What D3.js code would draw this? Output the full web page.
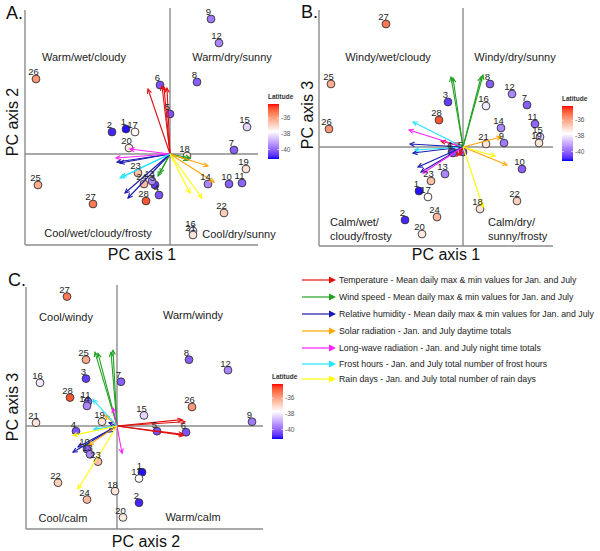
<!DOCTYPE html>
<html><head><meta charset="utf-8">
<script src="https://cdn.jsdelivr.net/npm/d3@7"></script>
<style>body{margin:0;background:#fff}svg{display:block}text{font-family:"Liberation Sans",Arial,sans-serif}</style>
</head><body><svg id="c" width="600" height="551"></svg>
<script>
// ---------- data ----------
const sites    = [1,2,3,4,5,6,7,8,9,10,11,12,13,14,15,16,17,18,19,20,21,22,23,24,25,26,27,28];
const latitude = [-41.1,-40.9,-40.6,-40.3,-40.3,-40.3,-40.1,-40.1,-39.7,-40.1,-40.0,-39.5,-39.5,-39.5,-38.3,-38.0,-37.6,-37.2,-37.2,-37.3,-37.2,-36.8,-36.5,-36.4,-36.2,-35.8,-35.3,-34.8];
const pc1 = [-4.4,-5.8,-1.5,-1.1,0.0,-1.0,6.4,2.7,4.1,5.9,7.2,4.9,-1.8,3.8,7.7,2.3,-3.5,1.7,7.6,-4.1,2.3,5.4,-3.2,-2.6,-13.2,-13.4,-7.7,-2.4];
const pc2 = [2.5,2.2,-3.1,-4.1,4.0,6.9,0.4,7.2,13.5,-3.0,-2.9,11.1,-2.7,-3.0,2.7,-7.7,2.2,-0.2,-1.5,0.6,-8.1,-5.9,-1.9,-3.0,-3.1,7.5,-5.0,-4.7];
const pc3 = [-4.4,-7.3,4.5,-0.5,-0.5,-0.6,4.2,6.3,0.4,-2.2,2.3,5.3,-2.7,1.9,1.0,4.1,-5.0,-6.2,0.4,-8.7,0.3,-5.4,-3.4,-7.0,6.3,1.8,12.3,2.7];

const varGroups   = ["temp","wind","rh","solar","lw","frost","rain"];
const groupColors = ["#e01010","#22a022","#1a1ab0","#ffa500","#ff22ff","#22e5ff","#ffff00"];
const legendLabels = [
  "Temperature - Mean daily max & min values for Jan. and July",
  "Wind speed - Mean daily max & min values for Jan. and July",
  "Relative humidity - Mean daily max & min values for Jan. and July",
  "Solar radiation - Jan. and July daytime totals",
  "Long-wave radiation - Jan. and July night time totals",
  "Frost hours - Jan. and July total number of frost hours",
  "Rain days - Jan. and July total number of rain days"
];
const arrowGroup = ["temp","temp","temp","temp","wind","wind","wind","wind","rh","rh","rh","rh","solar","solar","lw","lw","frost","frost","rain","rain"];
const loadPC1 = [-2.2,-0.8,-0.6,-0.3, -1.2,-1.0,1.8,2.0, -5.3,-5.0,-4.5,-4.2, 3.8,4.4, -5.4,-4.0, -5.0,-4.8, 3.2,2.0];
const loadPC2 = [6.5,6.8,6.7,6.6, -2.2,-1.9,-0.6,-0.4, -0.8,-0.9,-3.9,-4.4, -1.2,-2.8, -0.4,0.5, -2.4,-2.3, -4.4,-3.9];
const loadPC3 = [0.6,0.4,-0.9,-0.8, 7.0,6.9,7.0,7.2, 0.3,-0.6,-2.0,-2.5, 1.0,-1.8, 1.7,-2.6, 2.5,-0.3, -0.9,-6.0];
const latTicks = [-36,-38,-40];

// ---------- drawing ----------
const svg = d3.select("#c");
const color = d3.scaleLinear().domain([-41.2,-37.7,-34.2]).range(["#0000ff","#ffffff","#ff0000"]).interpolate(d3.interpolateLab);
const axisCol = "#8c8c8c";

const panels = [
  {letter:"A.", lx:6, ly:19, xs:pc1, ys:pc2, lx1:loadPC1, ly1:loadPC2,
   xDom:[-14.5,8.8], xRan:[25,258], yDom:[-9.1,14.6], yRan:[245,8],
   xTitle:"PC axis 1", xtx:142, xty:260, yTitle:"PC axis 2", ytx:18, yty:122,
   leg:{x:268,y:104},
   quads:[{t:["Warm/wet/cloudy"],x:84,y:61,a:"middle"},{t:["Warm/dry/sunny"],x:232,y:61,a:"middle"},
          {t:["Cool/wet/cloudy/frosty"],x:98,y:237,a:"middle"},{t:["Cool/dry/sunny"],x:239,y:238,a:"middle"}]},
  {letter:"B.", lx:301, ly:18, xs:pc1, ys:pc3, lx1:loadPC1, ly1:loadPC3,
   xDom:[-14.4,9.0], xRan:[319,553], yDom:[-9.9,13.9], yRan:[246,8],
   xTitle:"PC axis 1", xtx:446, xty:260, yTitle:"PC axis 3", ytx:313, yty:115,
   leg:{x:562,y:106},
   quads:[{t:["Windy/wet/cloudy"],x:388,y:61,a:"middle"},{t:["Windy/dry/sunny"],x:515,y:61,a:"middle"},
          {t:["Calm/wet/","cloudy/frosty"],x:330,y:226,a:"start"},{t:["Calm/dry/","sunny/frosty"],x:488,y:226,a:"start"}]},
  {letter:"C.", lx:8, ly:286, xs:pc2, ys:pc3, lx1:loadPC2, ly1:loadPC3,
   xDom:[-9.1,14.6], xRan:[26,263], yDom:[-9.8,13.4], yRan:[529,285],
   xTitle:"PC axis 2", xtx:146, xty:547, yTitle:"PC axis 3", ytx:18, yty:407,
   leg:{x:272,y:384},
   quads:[{t:["Cool/windy"],x:66,y:321,a:"middle"},{t:["Warm/windy"],x:193,y:319,a:"middle"},
          {t:["Cool/calm"],x:63,y:522,a:"middle"},{t:["Warm/calm"],x:193,y:521,a:"middle"}]}
];

const grad = svg.append("defs").append("linearGradient").attr("id","latgrad")
  .attr("x1",0).attr("y1",0).attr("x2",0).attr("y2",1);
d3.range(0,1.0001,0.05).forEach(t=>{
  grad.append("stop").attr("offset",t).attr("stop-color",color(-34.2 - 7*t));
});

function openArrow(g,x0,y0,x1,y1,col){
  g.append("line").attr("x1",x0).attr("y1",y0).attr("x2",x1).attr("y2",y1)
    .attr("stroke",col).attr("stroke-width",1.1);
  const ang=Math.atan2(y1-y0,x1-x0), L=5, a=Math.PI/7;
  g.append("path").attr("d",`M${x1-L*Math.cos(ang-a)},${y1-L*Math.sin(ang-a)}L${x1},${y1}L${x1-L*Math.cos(ang+a)},${y1-L*Math.sin(ang+a)}`)
    .attr("fill","none").attr("stroke",col).attr("stroke-width",1.1);
}

panels.forEach(p=>{
  const g = svg.append("g");
  const x = d3.scaleLinear().domain(p.xDom).range(p.xRan);
  const y = d3.scaleLinear().domain(p.yDom).range(p.yRan);
  g.append("line").attr("x1",p.xRan[0]).attr("x2",p.xRan[0]).attr("y1",p.yRan[1]+2).attr("y2",p.yRan[0]).attr("stroke",axisCol).attr("stroke-width",1.4);
  g.append("line").attr("x1",p.xRan[0]).attr("x2",p.xRan[1]).attr("y1",p.yRan[0]).attr("y2",p.yRan[0]).attr("stroke",axisCol).attr("stroke-width",1.4);
  g.append("line").attr("x1",x(0)).attr("x2",x(0)).attr("y1",p.yRan[1]).attr("y2",p.yRan[0]).attr("stroke",axisCol).attr("stroke-width",1.4);
  g.append("line").attr("x1",p.xRan[0]).attr("x2",p.xRan[1]).attr("y1",y(0)).attr("y2",y(0)).attr("stroke",axisCol).attr("stroke-width",1.4);
  p.quads.forEach(q=>{
    q.t.forEach((s,i)=>g.append("text").attr("x",q.x).attr("y",q.y+i*14).attr("text-anchor",q.a)
      .attr("font-size",11).attr("fill","#222").text(s));
  });
  sites.forEach((s,i)=>{
    g.append("circle").attr("cx",x(p.xs[i])).attr("cy",y(p.ys[i])).attr("r",3.9)
      .attr("fill",color(latitude[i])).attr("stroke","#333").attr("stroke-width",0.9);
  });
  arrowGroup.forEach((gr,j)=>{
    openArrow(g,x(0),y(0),x(p.lx1[j]),y(p.ly1[j]),groupColors[varGroups.indexOf(gr)]);
  });
  sites.forEach((s,i)=>{
    g.append("text").attr("x",x(p.xs[i])-2.5).attr("y",y(p.ys[i])-3.6).attr("text-anchor","middle")
      .attr("font-size",9.5).attr("fill","#222").text(s);
  });
  g.append("text").attr("x",p.lx).attr("y",p.ly).attr("font-size",18).attr("fill","#111").text(p.letter);
  g.append("text").attr("x",p.xtx).attr("y",p.xty).attr("text-anchor","middle").attr("font-size",16).attr("fill","#111").text(p.xTitle);
  g.append("text").attr("transform",`translate(${p.ytx},${p.yty}) rotate(-90)`).attr("text-anchor","middle").attr("font-size",16).attr("fill","#111").text(p.yTitle);
  const lg = g.append("g").attr("transform",`translate(${p.leg.x},${p.leg.y})`);
  const ly = d3.scaleLinear().domain([-41.2,-34.2]).range([55,0]);
  lg.append("text").attr("x",0).attr("y",-5).attr("font-size",6.5).attr("font-weight","bold").attr("fill","#333").text("Latitude");
  lg.append("rect").attr("width",11).attr("height",55).attr("fill","url(#latgrad)");
  latTicks.forEach(t=>{
    lg.append("line").attr("x1",0).attr("x2",2).attr("y1",ly(t)).attr("y2",ly(t)).attr("stroke","#fff").attr("stroke-width",0.6);
    lg.append("line").attr("x1",9).attr("x2",11).attr("y1",ly(t)).attr("y2",ly(t)).attr("stroke","#fff").attr("stroke-width",0.6);
    lg.append("text").attr("x",13).attr("y",ly(t)+2.2).attr("font-size",6.5).attr("fill","#555").text(t);
  });
});

// main legend
const legY = [280,297,314,331,348,364,379];
const mg = svg.append("g");
// size legend text so the longest row spans the same width as in the figure
const probe = mg.append("text").attr("font-size",10).text(legendLabels[2]);
const legFont = Math.min(10, 10*255/probe.node().getComputedTextLength());
probe.remove();
varGroups.forEach((gr,i)=>{
  const yy = legY[i], c = groupColors[i];
  mg.append("line").attr("x1",302).attr("x2",330).attr("y1",yy).attr("y2",yy).attr("stroke",c).attr("stroke-width",1.2);
  mg.append("path").attr("d",`M329,${yy-3.5}L336,${yy}L329,${yy+3.5}Z`).attr("fill",c);
  mg.append("text").attr("x",339).attr("y",yy+3.2).attr("font-size",legFont).attr("fill","#222").text(legendLabels[i]);
});
</script></body></html>
